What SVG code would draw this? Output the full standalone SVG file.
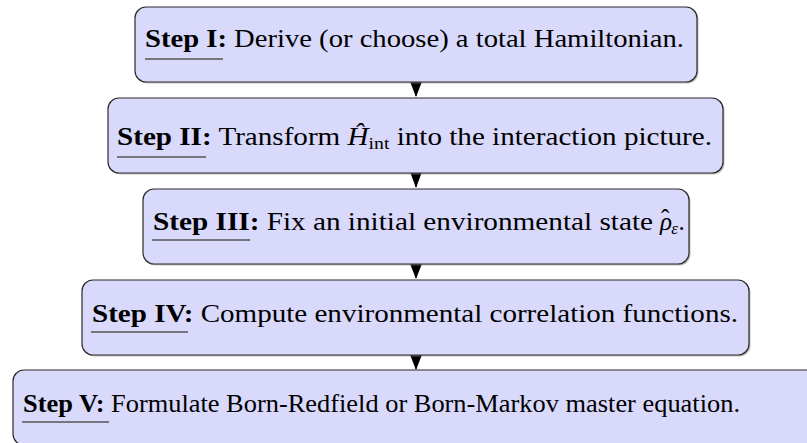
<svg xmlns="http://www.w3.org/2000/svg" width="807" height="443" viewBox="0 0 807 443">
<style>
.box{fill:#d9d9fc;stroke:#2a2a2a;stroke-width:1.2}
.sh{fill:#8a8a8a;opacity:0.55}
.t{font-family:"Liberation Serif","DejaVu Serif",serif;font-size:25px;fill:#000}
.b{font-weight:bold}
.i{font-style:italic}
.ul{stroke:#555;stroke-width:1.3}
.con{stroke:#000;stroke-width:1.2;fill:none}
.ah{fill:#000}
</style>
<rect width="807" height="443" fill="#fff"/>
<g id="connectors">
<line class="con" x1="416" y1="82" x2="416" y2="96"/>
<polygon class="ah" points="409,79 423,79 416,97"/>
<line class="con" x1="416" y1="173" x2="416" y2="187"/>
<polygon class="ah" points="409,169 423,169 416,188"/>
<line class="con" x1="416" y1="264" x2="416" y2="278"/>
<polygon class="ah" points="409,261 423,261 416,279"/>
<line class="con" x1="416" y1="355" x2="416" y2="369"/>
<polygon class="ah" points="409,352 423,352 416,370"/>
</g>
<g id="step1">
<rect class="sh" x="136.5" y="8.5" width="562" height="75" rx="11"/>
<rect class="box" x="135" y="7" width="562" height="75" rx="11"/>
<text class="t" x="145" y="47" textLength="539" lengthAdjust="spacingAndGlyphs"><tspan class="b">Step I:</tspan> Derive (or choose) a total Hamiltonian.</text>
<line class="ul" x1="145" y1="59" x2="223" y2="59"/>
</g>
<g id="step2">
<rect class="sh" x="109.5" y="99.5" width="615" height="75" rx="11"/>
<rect class="box" x="108" y="98" width="615" height="75" rx="11"/>
<text class="t" x="117" y="145" textLength="595" lengthAdjust="spacingAndGlyphs"><tspan class="b">Step II:</tspan> Transform <tspan class="i">Ĥ</tspan><tspan font-size="17" dy="4">int</tspan><tspan dy="-4"> into the interaction picture.</tspan></text>
<line class="ul" x1="117" y1="157" x2="206" y2="157"/>
</g>
<g id="step3">
<rect class="sh" x="144.5" y="190.5" width="546" height="75" rx="11"/>
<rect class="box" x="143" y="189" width="546" height="75" rx="11"/>
<text class="t" x="153" y="230" textLength="500" lengthAdjust="spacingAndGlyphs"><tspan class="b">Step III:</tspan> Fix an initial environmental state</text>
<text class="t" x="660" y="230"><tspan class="i">ρ</tspan><tspan dx="-11" dy="-3">ˆ</tspan><tspan class="i" font-size="17" dx="2" dy="7">ε</tspan><tspan dx="0.5" dy="-4">.</tspan></text>
<line class="ul" x1="152" y1="240" x2="250" y2="240"/>
</g>
<g id="step4">
<rect class="sh" x="83.5" y="281.5" width="667" height="75" rx="11"/>
<rect class="box" x="82" y="280" width="667" height="75" rx="11"/>
<text class="t" x="92" y="322" textLength="646" lengthAdjust="spacingAndGlyphs"><tspan class="b">Step IV:</tspan> Compute environmental correlation functions.</text>
<line class="ul" x1="91" y1="332" x2="188" y2="332"/>
</g>
<g id="step5">
<rect class="sh" x="14.5" y="371.5" width="820" height="75" rx="11"/>
<rect class="box" x="13" y="370" width="820" height="75" rx="11"/>
<text class="t" x="23" y="412" textLength="717" lengthAdjust="spacingAndGlyphs"><tspan class="b">Step V:</tspan> Formulate Born-Redfield or Born-Markov master equation.</text>
<line class="ul" x1="22" y1="422" x2="109" y2="422"/>
</g>
</svg>
